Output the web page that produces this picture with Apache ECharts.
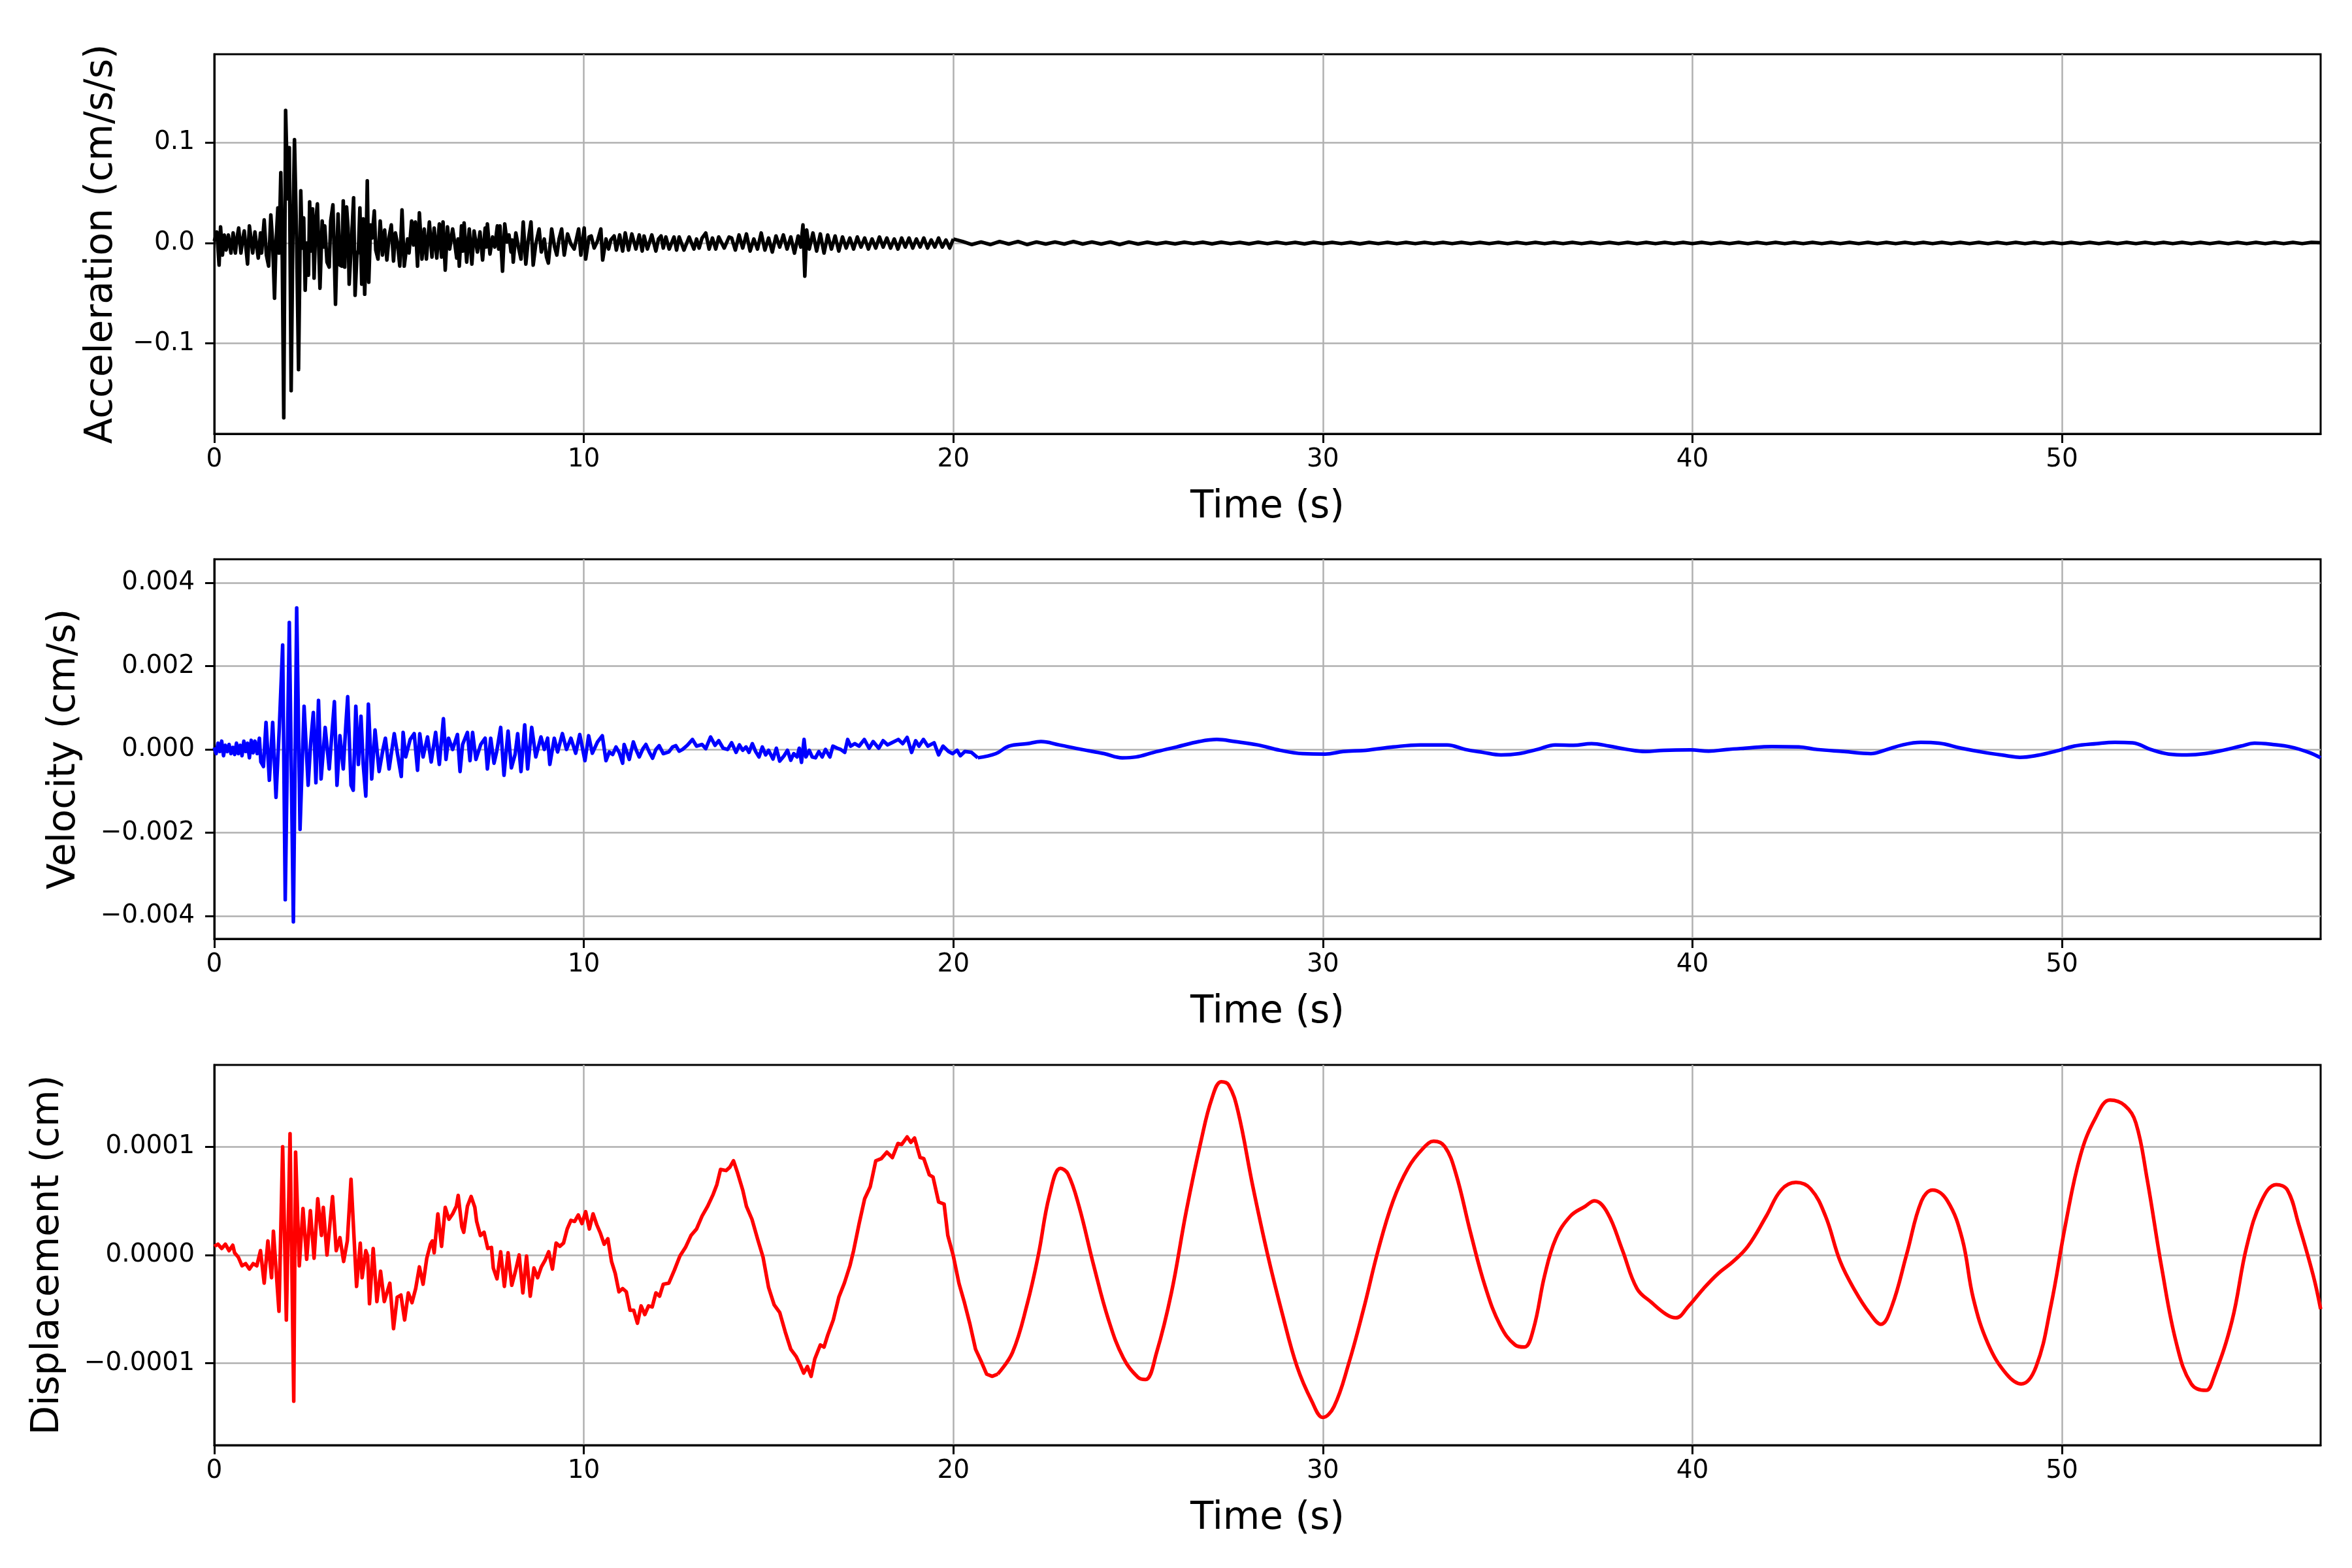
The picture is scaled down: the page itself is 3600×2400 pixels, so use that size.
<!DOCTYPE html>
<html>
<head>
<meta charset="utf-8">
<script src="https://cdn.jsdelivr.net/npm/echarts@6/dist/echarts.min.js"></script>
<style>
html, body { margin: 0; padding: 0; background: #fff; }
#chart { width: 3600px; height: 2400px; }
</style>
</head>
<body>
<div id="chart"></div>
<script>
// 加速度 (cm/s/s) [time s, value]
var accHead = [
    [0, 0.002], [0.07, 0.011], [0.13, -0.022], [0.17, 0.016], [0.22, -0.012], [0.27, 0.008], [0.32, -0.007], [0.38, 0.008],
    [0.45, -0.01], [0.51, 0.01], [0.57, -0.01], [0.62, 0.006], [0.66, 0.015], [0.72, -0.01], [0.77, 0.004], [0.81, 0.012],
    [0.86, -0.006], [0.9, -0.021], [0.95, 0.017], [1.0, 0.002], [1.04, -0.01], [1.1, 0.011], [1.15, -0.004], [1.19, -0.015],
    [1.25, 0.01], [1.28, -0.01], [1.35, 0.023], [1.41, -0.012], [1.47, -0.023], [1.53, 0.028], [1.58, 0], [1.63, -0.055],
    [1.67, 0], [1.72, 0.035], [1.75, -0.01], [1.8, 0.07], [1.84, -0.017], [1.88, -0.174], [1.93, 0.132], [1.99, 0.044],
    [2.03, 0.095], [2.08, -0.147], [2.13, 0.019], [2.17, 0.103], [2.23, 0], [2.28, -0.126], [2.34, 0.052], [2.38, -0.005],
    [2.42, 0.025], [2.46, -0.047], [2.5, 0], [2.55, -0.032], [2.58, 0.041], [2.62, -0.008], [2.66, 0.034], [2.7, -0.035],
    [2.75, 0.023], [2.79, 0.039], [2.86, -0.045], [2.92, 0.022], [2.96, -0.004], [2.99, 0.017], [3.05, -0.019], [3.11, -0.024],
    [3.15, 0.022], [3.21, 0.038], [3.25, -0.017], [3.28, -0.061], [3.31, -0.018], [3.35, 0.029], [3.4, -0.022], [3.45, -0.023],
    [3.49, 0.042], [3.53, -0.024], [3.58, 0.036], [3.62, 0.015], [3.65, -0.041], [3.71, 0], [3.77, 0.045], [3.81, -0.052],
    [3.86, -0.012], [3.9, -0.007], [3.94, 0.035], [3.99, -0.041], [4.03, 0.024], [4.07, -0.051], [4.11, 0], [4.14, 0.062],
    [4.18, -0.039], [4.23, 0.018], [4.27, 0.005], [4.33, 0.032], [4.37, -0.007], [4.43, -0.016], [4.49, 0.022], [4.55, -0.012],
    [4.61, 0.013], [4.67, -0.017], [4.73, 0.006], [4.79, 0.018], [4.85, -0.018], [4.9, 0.01], [4.96, -0.001], [5.02, -0.023],
    [5.08, 0.033], [5.14, -0.023], [5.23, 0.004], [5.27, -0.01], [5.34, 0.022], [5.39, -0.002], [5.44, 0.021], [5.5, -0.023],
    [5.55, 0.03], [5.62, -0.016], [5.68, 0.014], [5.74, -0.016], [5.82, 0.021], [5.89, -0.014], [5.95, 0.015], [6.02, -0.015],
    [6.09, 0.019], [6.15, -0.014], [6.19, 0.021], [6.25, -0.027], [6.31, 0.016], [6.37, -0.006], [6.45, 0.014], [6.51, -0.001],
    [6.56, -0.015], [6.595, 0.004], [6.63, -0.023], [6.69, 0.017], [6.725, -0.008], [6.76, 0.02], [6.83, -0.019], [6.9, 0.014],
    [6.97, -0.021], [7.03, 0.012], [7.12, -0.009], [7.19, 0.011], [7.26, -0.017], [7.33, 0.015], [7.36, -0.004], [7.39, 0.019],
    [7.46, -0.011], [7.53, 0.006], [7.59, -0.004], [7.66, 0.017], [7.695, -0.006], [7.73, 0.017], [7.8, -0.028], [7.86, 0.019],
    [7.92, 0.001], [7.975, 0.008], [8.03, -0.009], [8.06, 0.003], [8.09, -0.019], [8.16, 0.01], [8.23, -0.004], [8.3, -0.016],
    [8.36, 0.021], [8.43, -0.021], [8.49, 0.001], [8.57, 0.021], [8.63, -0.022], [8.7, -0.001], [8.79, 0.014], [8.85, -0.009],
    [8.93, 0.004], [8.99, -0.014], [9.04, -0.02], [9.13, 0.014], [9.21, -0.004], [9.27, -0.012], [9.33, 0.004], [9.4, 0.014],
    [9.47, -0.012], [9.56, 0.009], [9.65, -0.001], [9.74, -0.006], [9.86, 0.014], [9.92, -0.012], [10.01, 0.015], [10.05, -0.016],
    [10.14, 0.006], [10.2, 0.007], [10.28, -0.005], [10.37, 0.002], [10.46, 0.014], [10.51, -0.017], [10.6, 0.004], [10.67, -0.006],
    [10.73, 0.003], [10.82, 0.007], [10.88, -0.007], [10.97, 0.008], [11.05, -0.008], [11.12, 0.01], [11.21, -0.007], [11.3, 0.009],
    [11.41, -0.006], [11.5, 0.008], [11.58, -0.008], [11.63, 0.007], [11.72, -0.006], [11.84, 0.008], [11.95, -0.008], [12.02, 0.004],
    [12.09, 0.007], [12.15, -0.005], [12.22, 0.006], [12.31, -0.006], [12.44, 0.006], [12.51, -0.007], [12.58, 0.006], [12.71, -0.007],
    [12.85, 0.006], [12.98, -0.006], [13.05, 0.004], [13.12, -0.005], [13.2, 0.005], [13.3, 0.01], [13.39, -0.006], [13.48, 0.005],
    [13.57, -0.006], [13.65, 0.006], [13.8, -0.005], [13.93, 0.006],
    [14.0, 0.005], [14.1, -0.007], [14.2, 0.008], [14.3, -0.005], [14.4, 0.009], [14.5, -0.008], [14.6, 0.004], [14.7, -0.006],
    [14.8, 0.01], [14.9, -0.007], [15.0, 0.005], [15.1, -0.009], [15.2, 0.007], [15.3, -0.004], [15.4, 0.008], [15.5, -0.006],
    [15.6, 0.006], [15.7, -0.01], [15.8, 0.007], [15.87, -0.004], [15.93, 0.018], [15.98, -0.033], [16.03, 0.013], [16.1, -0.006],
    [16.2, 0.01], [16.3, -0.008], [16.4, 0.009], [16.5, -0.01], [16.6, 0.008], [16.7, -0.006], [16.8, 0.007], [16.9, -0.008],
    [17.0, 0.006], [17.1, -0.005], [17.2, 0.005], [17.3, -0.006], [17.4, 0.006], [17.5, -0.004], [17.6, 0.005], [17.7, -0.006],
    [17.8, 0.004], [17.9, -0.005], [18.0, 0.006], [18.1, -0.004], [18.2, 0.005], [18.3, -0.005], [18.4, 0.004], [18.5, -0.006],
    [18.6, 0.005], [18.7, -0.004], [18.8, 0.005], [18.9, -0.005], [19.0, 0.004], [19.1, -0.004], [19.2, 0.005], [19.3, -0.005],
    [19.4, 0.003], [19.5, -0.004], [19.6, 0.005], [19.7, -0.004], [19.8, 0.003], [19.9, -0.005], [20.0, 0.004]
];
// 20.25 s 以后, 每 0.25 s 一个点
var accTailStart = 20.25;
var accTailStep = 0.25;
var accTail = [
    0.0015, -0.0015, 0.001, -0.0015, 0.0015, -0.001, 0.0015, -0.0015, 0.001, -0.001,
    0.001, -0.001, 0.0015, -0.001, 0.001, -0.001, 0.001, -0.0015, 0.001, -0.001,
    0.0008, -0.0008, 0.0006, -0.0008, 0.0008, -0.0006, 0.0008, -0.0008, 0.0008, -0.0006,
    0.0006, -0.0008, 0.0008, -0.0006, 0.0008, -0.0006, 0.0006, -0.0008, 0.0008, -0.0006,
    0.0006, -0.0006, 0.0006, -0.0008, 0.0006, -0.0006, 0.0006, -0.0006, 0.0006, -0.0006,
    0.0006, -0.0006, 0.0006, -0.0006, 0.0006, -0.0006, 0.0006, -0.0006, 0.0006, -0.0006,
    0.0006, -0.0006, 0.0006, -0.0006, 0.0006, -0.0006, 0.0006, -0.0006, 0.0006, -0.0006,
    0.0006, -0.0006, 0.0006, -0.0006, 0.0006, -0.0006, 0.0006, -0.0006, 0.0006, -0.0006,
    0.0006, -0.0006, 0.0006, -0.0006, 0.0006, -0.0006, 0.0006, -0.0006, 0.0006, -0.0006,
    0.0006, -0.0006, 0.0006, -0.0006, 0.0006, -0.0006, 0.0006, -0.0006, 0.0006, -0.0006,
    0.0006, -0.0006, 0.0006, -0.0006, 0.0006, -0.0006, 0.0006, -0.0006, 0.0006, -0.0006,
    0.0006, -0.0006, 0.0006, -0.0006, 0.0006, -0.0006, 0.0006, -0.0006, 0.0006, -0.0006,
    0.0006, -0.0006, 0.0006, -0.0006, 0.0006, -0.0006, 0.0006, -0.0006, 0.0006, -0.0006,
    0.0006, -0.0006, 0.0006, -0.0006, 0.0006, -0.0006, 0.0006, -0.0006, 0.0006, -0.0006,
    0.0006, -0.0006, 0.0006, -0.0006, 0.0006, -0.0006, 0.0006, 0.0003
];

// 速度 (单位 1e-3 cm/s) [time s, value]
var velHead = [
    [0, 0.05], [0.05, -0.1], [0.1, 0.15], [0.15, -0.05], [0.2, 0.2], [0.25, -0.15], [0.3, 0.1], [0.35, -0.05],
    [0.4, 0.12], [0.45, -0.1], [0.5, 0.05], [0.55, -0.12], [0.6, 0.15], [0.65, -0.1], [0.7, 0.1], [0.75, -0.15],
    [0.8, 0.2], [0.85, -0.05], [0.9, 0.15], [0.95, -0.2], [1.0, 0.22], [1.05, -0.08], [1.1, 0.2], [1.16, -0.1],
    [1.22, 0.27], [1.26, -0.3], [1.33, -0.41], [1.4, 0.65], [1.49, -0.74], [1.58, 0.65], [1.67, -1.15], [1.76, 0.53],
    [1.85, 2.51], [1.92, -3.61], [2.03, 3.05], [2.14, -4.14], [2.23, 3.4], [2.32, -1.92], [2.43, 1.04], [2.54, -0.86],
    [2.61, 0.18], [2.68, 0.89], [2.75, -0.8], [2.82, 1.18], [2.89, -0.71], [3.0, 0.53], [3.11, -0.47], [3.25, 1.15],
    [3.32, -0.86], [3.4, 0.33], [3.49, -0.47], [3.56, 0.59], [3.61, 1.27], [3.7, -0.86], [3.76, -0.98], [3.83, 1.04],
    [3.9, -0.36], [3.97, 0.8], [4.03, -0.36], [4.1, -1.12], [4.17, 1.09], [4.26, -0.71], [4.35, 0.47], [4.46, -0.53],
    [4.57, 0.03], [4.63, 0.27], [4.73, -0.47], [4.87, 0.38], [4.96, -0.12], [5.06, -0.65], [5.11, 0.41], [5.18, -0.18],
    [5.3, 0.24], [5.41, 0.38], [5.5, -0.5], [5.56, 0.38], [5.65, -0.18], [5.77, 0.3], [5.87, -0.3], [5.99, 0.41],
    [6.09, -0.36], [6.2, 0.74], [6.27, -0.24], [6.34, 0.27], [6.45, 0], [6.58, 0.36], [6.65, -0.53], [6.72, 0.12],
    [6.85, 0.41], [6.92, -0.27], [6.99, 0.41], [7.08, -0.24], [7.21, 0.12], [7.33, 0.27], [7.39, -0.47], [7.48, 0.27],
    [7.57, -0.33], [7.64, -0.06], [7.75, 0.53], [7.84, -0.62], [7.95, 0.44], [8.04, -0.44], [8.14, -0.12], [8.21, 0.38],
    [8.3, -0.53], [8.4, 0.59], [8.48, -0.47], [8.59, 0.53], [8.7, -0.18], [8.84, 0.3], [8.93, 0], [9.02, 0.27],
    [9.08, -0.36], [9.2, 0.27], [9.29, -0.06], [9.42, 0.38], [9.53, 0], [9.65, 0.27], [9.78, -0.09], [9.89, 0.36],
    [10.03, -0.27], [10.13, 0.33], [10.23, -0.09], [10.37, 0.18], [10.5, 0.33], [10.6, -0.27], [10.69, -0.06], [10.78, -0.12],
    [10.87, 0.06], [10.96, -0.08], [11.05, -0.33], [11.09, 0.12], [11.16, -0.05], [11.23, -0.24], [11.34, 0.18], [11.42, -0.02],
    [11.5, -0.18], [11.6, 0.02], [11.68, 0.12], [11.77, -0.06], [11.86, -0.21], [11.95, 0.0], [12.04, 0.09], [12.15, -0.1],
    [12.3, -0.06], [12.4, 0.06], [12.49, 0.09], [12.58, -0.04], [12.67, 0], [12.8, 0.1], [12.94, 0.24], [13.05, 0.08],
    [13.2, 0.12], [13.3, 0.02], [13.43, 0.3], [13.55, 0.1], [13.65, 0.21], [13.77, 0.03], [13.89, 0], [14.0, 0.16],
    [14.12, -0.07], [14.21, 0.11], [14.3, -0.02], [14.39, 0.06], [14.47, -0.07], [14.56, 0.14], [14.65, -0.05], [14.74, -0.18],
    [14.83, 0.06], [14.92, -0.13], [15.0, -0.02], [15.12, -0.23], [15.21, 0.03], [15.3, -0.28], [15.42, -0.15], [15.51, -0.02],
    [15.6, -0.26], [15.68, -0.1], [15.77, -0.18], [15.83, 0.03], [15.89, -0.31], [15.96, 0.24], [16.01, -0.18], [16.1, -0.02],
    [16.18, -0.18], [16.27, -0.2], [16.36, -0.05], [16.45, -0.18], [16.54, 0], [16.66, -0.18], [16.74, 0.08], [16.86, 0.03],
    [16.95, 0], [17.06, -0.07], [17.14, 0.24], [17.22, 0.08], [17.33, 0.14], [17.45, 0.08], [17.59, 0.24], [17.72, 0.03],
    [17.83, 0.19], [17.98, 0.03], [18.1, 0.21], [18.22, 0.11], [18.33, 0.16], [18.51, 0.24], [18.63, 0.14], [18.75, 0.29],
    [18.87, -0.07], [18.98, 0.21], [19.07, 0.08], [19.19, 0.24], [19.31, 0.08], [19.48, 0.16], [19.6, -0.13], [19.72, 0.08],
    [19.87, -0.05], [19.98, -0.1], [20.1, -0.02], [20.19, -0.15], [20.31, -0.05], [20.49, -0.07], [20.66, -0.2]
];
var velTail = [
    [20.66, -0.2], [21.15, -0.1], [21.5, 0.08], [22.0, 0.14], [22.37, 0.19], [22.86, 0.11], [23.47, 0], [24.08, -0.1],
    [24.57, -0.2], [24.94, -0.18], [25.42, -0.07], [26.04, 0.06], [26.65, 0.19], [27.13, 0.24], [27.62, 0.19], [28.23, 0.11],
    [28.84, -0.02], [29.45, -0.1], [30.06, -0.11], [30.55, -0.05], [31.16, -0.02], [31.9, 0.06], [32.63, 0.11], [33.36, 0.11],
    [33.85, 0], [34.33, -0.07], [34.82, -0.13], [35.31, -0.1], [35.8, 0], [36.29, 0.11], [36.78, 0.1], [37.27, 0.14],
    [37.75, 0.08], [38.24, 0], [38.73, -0.05], [39.22, -0.02], [39.95, -0.01], [40.44, -0.04], [40.93, 0], [41.42, 0.03],
    [42.15, 0.07], [42.88, 0.06], [43.37, 0], [44.1, -0.05], [44.83, -0.1], [45.2, -0.02], [45.69, 0.11], [46.18, 0.17],
    [46.67, 0.15], [47.28, 0.03], [47.89, -0.07], [48.5, -0.15], [48.86, -0.19], [49.35, -0.14], [49.84, -0.04], [50.33, 0.08],
    [50.94, 0.14], [51.43, 0.17], [51.91, 0.16], [52.4, 0], [52.89, -0.11], [53.38, -0.13], [53.87, -0.1], [54.36, -0.02],
    [54.84, 0.08], [55.21, 0.15], [55.7, 0.12], [56.19, 0.06], [56.68, -0.07], [57.0, -0.2]
];

// 位移 (单位 1e-4 cm) [time s, value]
var dispHead = [
    [0, 0.08], [0.1, 0.1], [0.2, 0.06], [0.3, 0.1], [0.4, 0.04], [0.5, 0.09], [0.55, 0.02], [0.65, -0.02],
    [0.75, -0.1], [0.85, -0.08], [0.95, -0.13], [1.05, -0.08], [1.15, -0.1], [1.25, 0.04], [1.35, -0.26], [1.45, 0.13],
    [1.55, -0.21], [1.6, 0.22], [1.75, -0.52], [1.85, 1.0], [1.95, -0.6], [2.05, 1.12], [2.15, -1.35], [2.2, 0.95],
    [2.3, -0.1], [2.4, 0.43], [2.5, -0.04], [2.6, 0.41], [2.7, -0.03], [2.8, 0.52], [2.9, 0.18], [2.95, 0.44],
    [3.05, 0], [3.2, 0.54], [3.3, 0.04], [3.4, 0.16], [3.5, -0.06], [3.6, 0.13], [3.7, 0.7], [3.85, -0.29],
    [3.95, 0.11], [4.0, -0.21], [4.1, 0.04], [4.15, -0.01], [4.2, -0.45], [4.3, 0.06], [4.4, -0.43], [4.5, -0.15],
    [4.6, -0.43], [4.75, -0.26], [4.85, -0.68], [4.95, -0.39], [5.05, -0.37], [5.15, -0.6], [5.25, -0.35], [5.35, -0.44],
    [5.45, -0.31], [5.55, -0.11], [5.65, -0.27], [5.75, -0.03], [5.85, 0.1], [5.9, 0.13], [5.95, 0.02], [6.05, 0.38],
    [6.15, 0.08], [6.25, 0.44], [6.35, 0.33], [6.45, 0.38], [6.55, 0.45], [6.6, 0.55], [6.7, 0.26], [6.75, 0.21],
    [6.85, 0.45], [6.95, 0.54], [7.05, 0.44], [7.1, 0.31], [7.2, 0.18], [7.3, 0.21], [7.4, 0.06], [7.5, 0.07],
    [7.55, -0.12], [7.65, -0.22], [7.75, 0.03], [7.85, -0.29], [7.95, 0.02], [8.05, -0.28], [8.15, -0.15], [8.25, 0],
    [8.35, -0.35], [8.45, -0.01], [8.55, -0.38], [8.65, -0.12], [8.75, -0.21], [8.85, -0.11], [8.95, -0.05], [9.05, 0.03],
    [9.15, -0.13], [9.25, 0.11], [9.35, 0.08], [9.45, 0.11], [9.55, 0.24], [9.65, 0.32], [9.75, 0.31], [9.85, 0.37],
    [9.95, 0.29], [10.05, 0.4], [10.15, 0.24], [10.25, 0.38], [10.35, 0.28], [10.45, 0.2], [10.55, 0.1], [10.65, 0.15],
    [10.75, -0.06], [10.85, -0.17], [10.95, -0.34], [11.05, -0.31], [11.15, -0.34], [11.25, -0.51], [11.35, -0.51], [11.45, -0.63],
    [11.55, -0.47], [11.65, -0.55], [11.75, -0.47], [11.85, -0.48], [11.95, -0.35], [12.05, -0.38], [12.15, -0.27], [12.3, -0.26],
    [12.45, -0.14], [12.6, -0.01], [12.75, 0.07], [12.9, 0.18], [13.05, 0.24], [13.2, 0.36], [13.35, 0.45], [13.5, 0.56],
    [13.6, 0.65], [13.7, 0.79], [13.85, 0.78], [13.95, 0.81], [14.05, 0.87], [14.15, 0.77], [14.3, 0.6], [14.4, 0.45],
    [14.55, 0.33], [14.7, 0.15], [14.85, -0.02], [15.0, -0.3], [15.15, -0.46], [15.3, -0.53], [15.45, -0.71], [15.6, -0.87],
    [15.75, -0.94], [15.85, -1.01], [15.95, -1.09], [16.05, -1.03], [16.15, -1.12], [16.25, -0.96], [16.4, -0.83], [16.5, -0.85],
    [16.6, -0.74], [16.75, -0.6], [16.9, -0.39], [17.05, -0.26], [17.2, -0.1], [17.3, 0.04], [17.45, 0.29], [17.6, 0.52],
    [17.75, 0.63], [17.9, 0.87], [18.05, 0.89], [18.2, 0.95], [18.35, 0.9], [18.5, 1.03], [18.6, 1.02], [18.75, 1.09],
    [18.85, 1.04], [18.95, 1.08], [19.1, 0.9], [19.2, 0.89], [19.35, 0.74], [19.45, 0.72], [19.6, 0.49], [19.75, 0.47],
    [19.85, 0.18], [20.0, -0.01], [20.15, -0.26], [20.3, -0.44], [20.45, -0.64], [20.6, -0.87], [20.75, -0.98], [20.9, -1.1],
    [21.05, -1.12], [21.2, -1.1]
];
var dispTail = [
    [21.2, -1.1], [21.6, -0.9], [22.0, -0.45], [22.3, 0.0], [22.6, 0.55], [22.9, 0.8], [23.1, 0.75], [23.4, 0.45],
    [23.8, -0.1], [24.2, -0.6], [24.6, -0.95], [25.0, -1.13], [25.2, -1.15], [25.5, -0.9], [25.9, -0.35], [26.3, 0.4],
    [26.7, 1.05], [27.0, 1.45], [27.25, 1.6], [27.45, 1.57], [27.7, 1.33], [28.1, 0.64], [28.5, 0.01], [28.9, -0.54],
    [29.3, -1.03], [29.7, -1.35], [30.0, -1.5], [30.3, -1.4], [30.7, -1.0], [31.1, -0.5], [31.5, 0.05], [31.9, 0.5],
    [32.3, 0.8], [32.7, 0.98], [33.0, 1.05], [33.3, 1.0], [33.6, 0.75], [34.0, 0.2], [34.4, -0.3], [34.8, -0.65],
    [35.2, -0.83], [35.45, -0.85], [35.7, -0.68], [36.0, -0.19], [36.3, 0.15], [36.7, 0.36], [37.1, 0.45], [37.35, 0.5],
    [37.7, 0.39], [38.1, 0.05], [38.5, -0.31], [38.9, -0.44], [39.3, -0.55], [39.55, -0.58], [39.9, -0.47], [40.3, -0.31],
    [40.7, -0.17], [41.1, -0.06], [41.5, 0.08], [42.0, 0.36], [42.4, 0.6], [42.8, 0.67], [43.2, 0.61], [43.6, 0.36],
    [44.0, -0.06], [44.4, -0.33], [44.8, -0.54], [45.1, -0.64], [45.4, -0.47], [45.8, 0.01], [46.2, 0.5], [46.5, 0.6],
    [46.9, 0.5], [47.3, 0.15], [47.6, -0.4], [48.0, -0.82], [48.5, -1.1], [48.9, -1.19], [49.3, -1.03], [49.7, -0.47],
    [50.1, 0.29], [50.5, 0.92], [50.9, 1.26], [51.3, 1.43], [51.7, 1.38], [52.0, 1.22], [52.3, 0.71], [52.7, -0.12],
    [53.1, -0.82], [53.5, -1.19], [53.9, -1.25], [54.1, -1.14], [54.6, -0.61], [55.0, 0.08], [55.4, 0.5], [55.8, 0.65],
    [56.1, 0.6], [56.4, 0.29], [56.8, -0.19], [57.0, -0.5]
];

var timeTicks = [0, 10, 20, 30, 40, 50];
var accTicks = [-0.1, 0, 0.1];
var velTicks = [-4, -2, 0, 2, 4];     // ×1e-3
var dispTicks = [-1, 0, 1];           // ×1e-4

var FONT = 'DejaVu Sans';

var accTailPts = accTail.map(function (v, i) {
    return [accTailStart + i * accTailStep, v];
});

function fmt(x, d) {
    var s = Math.abs(x).toFixed(d);
    return (x < -1e-12 ? '\u2212' : '') + s;
}

function timeAxis(idx) {
    return {
        type: 'value', gridIndex: idx, min: 0, max: 57,
        name: 'Time (s)', nameLocation: 'middle', nameGap: 84,
        nameTextStyle: { fontFamily: FONT, fontSize: 58, color: '#000' },
        axisLine: { show: true, onZero: false, lineStyle: { color: '#000', width: 3 } },
        axisTick: { show: true, inside: false, length: 14, customValues: timeTicks, lineStyle: { color: '#000', width: 3 } },
        axisLabel: { fontFamily: FONT, fontSize: 39, color: '#000', margin: 20, customValues: timeTicks },
        splitLine: { show: true, lineStyle: { color: '#b0b0b0', width: 2.5 } }
    };
}

function valueAxis(idx, name, gap, lo, hi, ticks, fn) {
    return {
        type: 'value', gridIndex: idx, min: lo, max: hi,
        name: name, nameLocation: 'middle', nameRotate: 90, nameGap: gap,
        nameTextStyle: { fontFamily: FONT, fontSize: 58, color: '#000' },
        axisLine: { show: true, onZero: false, lineStyle: { color: '#000', width: 3 } },
        axisTick: { show: true, inside: false, length: 14, customValues: ticks, lineStyle: { color: '#000', width: 3 } },
        axisLabel: { fontFamily: FONT, fontSize: 39, color: '#000', margin: 30, customValues: ticks, formatter: fn },
        splitLine: { show: true, lineStyle: { color: '#b0b0b0', width: 2.5 } }
    };
}

function trace(idx, data, color, smooth) {
    return {
        type: 'line', xAxisIndex: idx, yAxisIndex: idx, data: data,
        showSymbol: false, symbol: 'none', smooth: smooth, silent: true,
        lineStyle: { color: color, width: 5.5, join: 'round' }
    };
}

var myChart = echarts.init(document.getElementById('chart'), null, { renderer: 'canvas' });
var option = {
    backgroundColor: '#fff',
    animation: false,
    grid: [
        { left: 328, right: 48, top: 83, height: 581, show: true, borderColor: '#000', borderWidth: 3 },
        { left: 328, right: 48, top: 856, height: 581, show: true, borderColor: '#000', borderWidth: 3 },
        { left: 328, right: 48, top: 1630, height: 582, show: true, borderColor: '#000', borderWidth: 3 }
    ],
    xAxis: [timeAxis(0), timeAxis(1), timeAxis(2)],
    yAxis: [
        valueAxis(0, 'Acceleration (cm/s/s)', 143, -0.190, 0.188, accTicks, function (v) { return fmt(v, 1); }),
        valueAxis(1, 'Velocity (cm/s)', 200, -4.55, 4.57, velTicks, function (v) { return fmt(v / 1000, 3); }),
        valueAxis(2, 'Displacement (cm)', 225, -1.756, 1.755, dispTicks, function (v) { return fmt(v / 10000, 4); })
    ],
    series: [
        trace(0, accHead, '#000000', false),
        trace(0, [[20.0, 0.004]].concat(accTailPts), '#000000', false),
        trace(1, velHead, '#0000ff', false),
        trace(1, velTail, '#0000ff', 0.4),
        trace(2, dispHead, '#ff0000', false),
        trace(2, dispTail, '#ff0000', 0.4)
    ]
};
// 为echarts对象加载数据
myChart.setOption(option);
</script>
</body>
</html>
